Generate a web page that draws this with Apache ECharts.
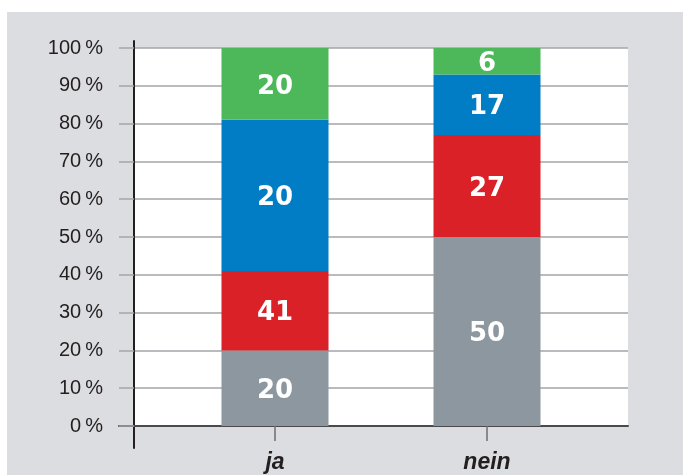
<!DOCTYPE html>
<html>
<head>
<meta charset="utf-8">
<script src="https://cdn.jsdelivr.net/npm/echarts@6/dist/echarts.min.js"></script>
<style>
html,body{margin:0;padding:0;background:#fff;width:683px;height:475px;overflow:hidden;}
#bg{position:absolute;left:7px;top:12px;right:0;bottom:0;background:#dcdde0;}
#chart{position:absolute;left:0;top:0;width:683px;height:475px;}
</style>
</head>
<body>
<div id="bg"></div>
<div id="chart"></div>
<script>
const categories = ['ja', 'nein'];
// segment heights as drawn
const grayValues  = [20, 50];
const redValues   = [21, 27];
const blueValues  = [40, 16];
const greenValues = [19, 7];
// numbers printed on the segments
const grayLabels  = ['20', '50'];
const redLabels   = ['41', '27'];
const blueLabels  = ['20', '17'];
const greenLabels = ['20', '6'];
const yTicks = [0, 10, 20, 30, 40, 50, 60, 70, 80, 90, 100];

const chart = echarts.init(document.getElementById('chart'), null, {renderer: 'canvas'});
const gridLine = '#a3a5a8';
const dark = '#231f20';

function seg(name, values, labels, color) {
  return {
    name: name, type: 'bar', stack: 'total', xAxisIndex: 1, yAxisIndex: 1,
    data: values, barWidth: 107, itemStyle: {color: color},
    label: {
      show: true, position: 'inside', color: '#fff', offset: [0, 3],
      fontFamily: 'DejaVu Sans', fontWeight: 'bold', fontSize: 26,
      formatter: p => labels[p.dataIndex]
    },
    emphasis: {disabled: true}, animation: false
  };
}

chart.setOption({
  animation: false,
  grid: [
    {left: 134, right: 55, top: 48, bottom: 49, show: true, backgroundColor: '#fff', borderWidth: 0},
    {left: 169, right: 90, top: 48, bottom: 49},
    {left: 134, right: 55, top: 41, bottom: 27},
    {left: 119, right: 55, top: 48, bottom: 49}
  ],
  xAxis: [
    {gridIndex: 0, type: 'category', data: categories, show: false},
    {gridIndex: 1, type: 'category', data: categories,
     axisLine: {show: false},
     axisTick: {show: true, alignWithLabel: true, length: 15, lineStyle: {color: '#6d6e70', width: 1.5}},
     axisLabel: {margin: 25, color: dark, fontFamily: 'Liberation Sans', fontWeight: 'bold', fontStyle: 'italic', fontSize: 23}
    },
    {gridIndex: 2, type: 'category', data: categories, show: false},
    {gridIndex: 3, type: 'category', data: categories,
     axisLine: {show: true, lineStyle: {color: '#4a4a4c', width: 2}},
     axisTick: {show: false}, axisLabel: {show: false}}
  ],
  yAxis: [
    {gridIndex: 0, type: 'value', min: yTicks[0], max: yTicks[yTicks.length - 1], interval: 10,
     axisLine: {show: false},
     axisTick: {show: true, length: 15, lineStyle: {color: gridLine, width: 1.5}},
     splitLine: {show: true, lineStyle: {color: gridLine, width: 1.5}},
     axisLabel: {margin: 31, color: dark, fontFamily: 'Liberation Sans', fontSize: 20,
                 padding: [0, 0, 4, 0],
                 formatter: v => v + '\u2009%'}
    },
    {gridIndex: 1, type: 'value', min: 0, max: 100, show: false},
    {gridIndex: 2, type: 'value', min: 0, max: 100,
     axisLine: {show: true, lineStyle: {color: dark, width: 2}},
     axisTick: {show: false}, axisLabel: {show: false}, splitLine: {show: false}},
    {gridIndex: 3, type: 'value', min: 0, max: 100, show: false}
  ],
  series: [
    seg('gray', grayValues, grayLabels, '#8c979f'),
    seg('red', redValues, redLabels, '#da2128'),
    seg('blue', blueValues, blueLabels, '#007dc4'),
    seg('green', greenValues, greenLabels, '#4cb859')
  ]
});
</script>
</body>
</html>
